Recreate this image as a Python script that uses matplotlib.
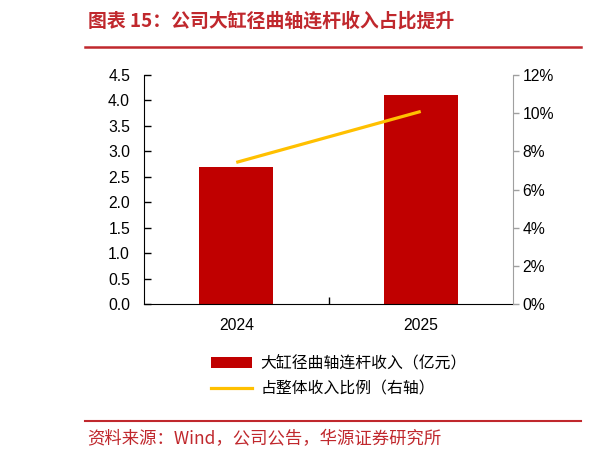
import matplotlib
matplotlib.use("Agg")
import matplotlib.pyplot as plt
from matplotlib.patches import Patch
from matplotlib.lines import Line2D
from matplotlib.ticker import FuncFormatter

categories = ["2024", "2025"]
revenue = [2.69, 4.11]          # 亿元
share_pct = [7.42, 10.09]       # %
left_ticks = [0.0, 0.5, 1.0, 1.5, 2.0, 2.5, 3.0, 3.5, 4.0, 4.5]
right_ticks = [0, 2, 4, 6, 8, 10, 12]

title_text = "图表 15：公司大缸径曲轴连杆收入占比提升"
source_text = "资料来源：Wind，公司公告，华源证券研究所"
bar_label = "大缸径曲轴连杆收入（亿元）"
line_label = "占整体收入比例（右轴）"

CJK = ["Noto Sans CJK SC", "DejaVu Sans"]
NUM = ["Liberation Sans", "DejaVu Sans"]
RED = "#C00000"
TITLE_RED = "#C0282D"
GOLD = "#FFC000"

W, H = 614, 459
fig = plt.figure(figsize=(W / 100, H / 100), dpi=100)

ax = fig.add_axes([144 / W, 1 - 304 / H, (513 - 144) / W, (304 - 75) / H])
x = list(range(len(categories)))
ax.bar(x, revenue, width=0.4, color=RED, zorder=2)
ax.set_xlim(-0.5, len(categories) - 0.5)
ax.set_ylim(0, 4.5)
ax.set_yticks(left_ticks)
ax.set_yticklabels([f"{v:.1f}" for v in left_ticks], fontfamily=NUM, fontsize=11.3)
ax.set_xticks(x)
ax.set_xticklabels(categories, fontfamily=NUM, fontsize=11.3)
ax.set_xticks([0.5], minor=True)
ax.tick_params(axis="x", which="major", length=0, pad=10)
ax.tick_params(axis="x", which="minor", direction="in", length=5, width=1, color="black")
ax.tick_params(axis="y", direction="in", length=5, width=1, color="black", pad=10)
for s in ["top", "right"]:
    ax.spines[s].set_visible(False)
ax.spines["left"].set_color("black")
ax.spines["bottom"].set_color("black")

ax2 = ax.twinx()
ax2.plot(x, share_pct, color=GOLD, linewidth=2.3, solid_capstyle="butt", zorder=3)
ax2.set_ylim(0, 12)
ax2.set_yticks(right_ticks)
ax2.yaxis.set_major_formatter(FuncFormatter(lambda v, p: f"{v:.0f}%"))
for lab in ax2.get_yticklabels():
    lab.set_fontfamily(NUM)
    lab.set_fontsize(11.3)
ax2.tick_params(axis="y", direction="out", length=4, width=1, color="#A0A0A0", pad=3)
for s in ["top", "left", "bottom"]:
    ax2.spines[s].set_visible(False)
ax2.spines["right"].set_color("#A0A0A0")

# Title and rules
fig.text(88 / W, 1 - 21 / H, title_text, fontfamily=CJK, fontsize=13.6,
         fontweight="bold", color=TITLE_RED, ha="left", va="center")
fig.add_artist(Line2D([85 / W, 581 / W], [1 - 46.5 / H, 1 - 46.5 / H],
                      color=TITLE_RED, linewidth=1.8))
fig.add_artist(Line2D([85 / W, 581 / W], [1 - 420.5 / H, 1 - 420.5 / H],
                      color=TITLE_RED, linewidth=1.5))
fig.text(87 / W, 1 - 439 / H, source_text, fontfamily=CJK, fontsize=12.5,
         color=TITLE_RED, ha="left", va="center")

handles = [Patch(facecolor=RED, edgecolor="none"),
           Line2D([0], [0], color=GOLD, linewidth=2.3)]
leg = fig.legend(handles, [bar_label, line_label], loc="upper left",
                 bbox_to_anchor=(211 / W, 1 - 355 / H), frameon=False,
                 borderpad=0, borderaxespad=0, handlelength=2.6,
                 handletextpad=0.5, labelspacing=0.55,
                 prop={"family": CJK, "size": 11.4})

fig.savefig("out.png", dpi=100)
